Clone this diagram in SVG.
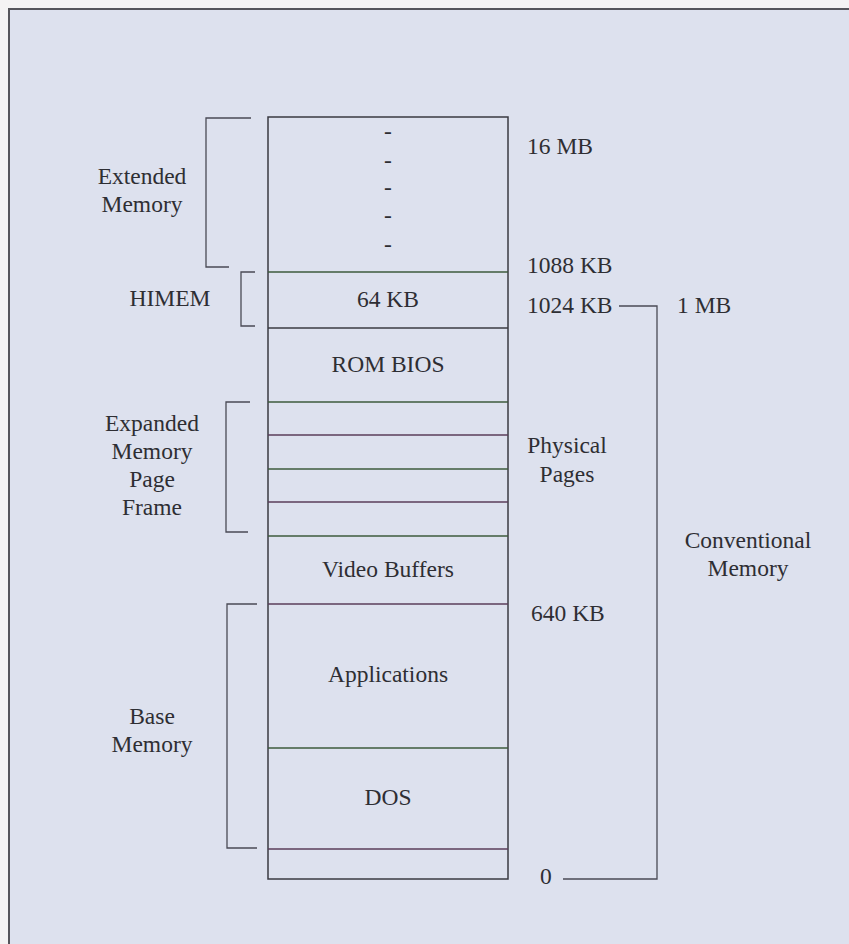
<svg xmlns="http://www.w3.org/2000/svg" width="849" height="944" viewBox="0 0 849 944">
<style>
text{font-family:"Liberation Serif","Times New Roman",serif;font-size:23.5px;fill:#2e2e33}
.m{text-anchor:middle}
.ln{stroke:#3a3a42;stroke-width:1.5;fill:none}
.g{stroke:#3d5a3d;stroke-width:1.5}
.p{stroke:#5a3d5a;stroke-width:1.5}
.br{stroke:#4a4a55;stroke-width:1.3;fill:none}
</style>
<rect x="0" y="0" width="849" height="944" fill="#f4f3f4"/>
<rect x="9" y="9" width="850" height="950" fill="#dde1ee" stroke="#55555c" stroke-width="2"/>

<g id="column">
<rect x="268" y="117" width="240" height="762" fill="#f3f3f5" class="ln"/>
</g>

<g id="extended-area">
<text x="388" y="139" class="m">-</text>
<text x="388" y="168" class="m">-</text>
<text x="388" y="195" class="m">-</text>
<text x="388" y="223" class="m">-</text>
<text x="388" y="252" class="m">-</text>
</g>
<g id="himem-area"><line x1="268" y1="272" x2="508" y2="272" class="g"/><text x="388" y="307" class="m">64 KB</text></g>
<g id="rom-bios"><line x1="268" y1="328" x2="508" y2="328" class="ln"/><text x="388" y="372" class="m">ROM BIOS</text></g>
<g id="page-frame">
<line x1="268" y1="402" x2="508" y2="402" class="g"/>
<line x1="268" y1="435" x2="508" y2="435" class="p"/>
<line x1="268" y1="469" x2="508" y2="469" class="g"/>
<line x1="268" y1="502" x2="508" y2="502" class="p"/>
<line x1="268" y1="536" x2="508" y2="536" class="g"/>
</g>
<g id="video-buffers"><text x="388" y="577" class="m">Video Buffers</text></g>
<g id="applications"><line x1="268" y1="604" x2="508" y2="604" class="p"/><text x="388" y="682" class="m">Applications</text></g>
<g id="dos"><line x1="268" y1="748" x2="508" y2="748" class="g"/><text x="388" y="805" class="m">DOS</text></g>
<g id="bottom-slot"><line x1="268" y1="849" x2="508" y2="849" class="p"/></g>

<g id="connectors">
<polyline points="251,118 206,118 206,267 229,267" class="br"/>
<polyline points="255,272 241,272 241,326 255,326" class="br"/>
<polyline points="250,402 226,402 226,532 248,532" class="br"/>
<polyline points="257,604 227,604 227,848 257,848" class="br"/>
<polyline points="619,306 657,306 657,879 563,879" class="br"/>
</g>

<g id="left-labels">
<text x="142" y="184" class="m">Extended</text>
<text x="142" y="212" class="m">Memory</text>
<text x="170" y="306" class="m">HIMEM</text>
<text x="152" y="431" class="m">Expanded</text>
<text x="152" y="459" class="m">Memory</text>
<text x="152" y="487" class="m">Page</text>
<text x="152" y="515" class="m">Frame</text>
<text x="152" y="724" class="m">Base</text>
<text x="152" y="752" class="m">Memory</text>
</g>
<g id="right-labels">
<text x="527" y="154">16 MB</text>
<text x="527" y="273">1088 KB</text>
<text x="527" y="313">1024 KB</text>
<text x="677" y="313">1 MB</text>
<text x="567" y="453" class="m">Physical</text>
<text x="567" y="482" class="m">Pages</text>
<text x="748" y="548" class="m">Conventional</text>
<text x="748" y="576" class="m">Memory</text>
<text x="531" y="621">640 KB</text>
<text x="540" y="884">0</text>
</g>
</svg>
